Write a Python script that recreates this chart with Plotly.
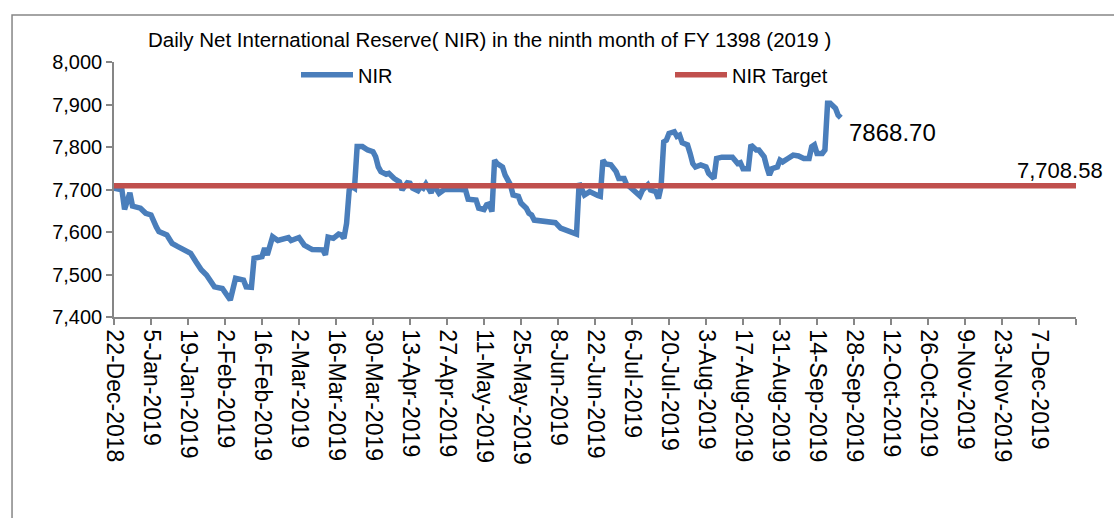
import plotly.graph_objects as go

# ---- data ----
dates = [
    "2018-12-22", "2018-12-25", "2018-12-26", "2018-12-28", "2018-12-29",
    "2019-01-01", "2019-01-03", "2019-01-05", "2019-01-07", "2019-01-08",
    "2019-01-11", "2019-01-13", "2019-01-15", "2019-01-18", "2019-01-20",
    "2019-01-22", "2019-01-24", "2019-01-26", "2019-01-29", "2019-02-01",
    "2019-02-04", "2019-02-06", "2019-02-09", "2019-02-10", "2019-02-12",
    "2019-02-13", "2019-02-16", "2019-02-17", "2019-02-18", "2019-02-20",
    "2019-02-22", "2019-02-26", "2019-02-27", "2019-03-02", "2019-03-04",
    "2019-03-06", "2019-03-07", "2019-03-11", "2019-03-12", "2019-03-13",
    "2019-03-15", "2019-03-17", "2019-03-18", "2019-03-19", "2019-03-20",
    "2019-03-21", "2019-03-22", "2019-03-23", "2019-03-24", "2019-03-26",
    "2019-03-28", "2019-03-30", "2019-03-31", "2019-04-01", "2019-04-02",
    "2019-04-04", "2019-04-05", "2019-04-07", "2019-04-09", "2019-04-10",
    "2019-04-12", "2019-04-13", "2019-04-14", "2019-04-16", "2019-04-17",
    "2019-04-18", "2019-04-19", "2019-04-21", "2019-04-22", "2019-04-24",
    "2019-04-26", "2019-05-02", "2019-05-04", "2019-05-05", "2019-05-06",
    "2019-05-08", "2019-05-09", "2019-05-11", "2019-05-12", "2019-05-13",
    "2019-05-14", "2019-05-15", "2019-05-16", "2019-05-18", "2019-05-19",
    "2019-05-20", "2019-05-21", "2019-05-22", "2019-05-24", "2019-05-25",
    "2019-05-27", "2019-05-28", "2019-05-29", "2019-05-30", "2019-06-01",
    "2019-06-04", "2019-06-07", "2019-06-09", "2019-06-11", "2019-06-14",
    "2019-06-15", "2019-06-16", "2019-06-17", "2019-06-18", "2019-06-20",
    "2019-06-21", "2019-06-23", "2019-06-24", "2019-06-25", "2019-06-26",
    "2019-06-28", "2019-06-30", "2019-07-01", "2019-07-03", "2019-07-04",
    "2019-07-05", "2019-07-07", "2019-07-09", "2019-07-10", "2019-07-12",
    "2019-07-13", "2019-07-15", "2019-07-16", "2019-07-17", "2019-07-18",
    "2019-07-19", "2019-07-20", "2019-07-22", "2019-07-23", "2019-07-24",
    "2019-07-25", "2019-07-27", "2019-07-28", "2019-07-29", "2019-07-30",
    "2019-08-01", "2019-08-03", "2019-08-04", "2019-08-06", "2019-08-07",
    "2019-08-09", "2019-08-13", "2019-08-15", "2019-08-16", "2019-08-17",
    "2019-08-19", "2019-08-20", "2019-08-22", "2019-08-23", "2019-08-25",
    "2019-08-26", "2019-08-27", "2019-08-28", "2019-08-30", "2019-08-31",
    "2019-09-01", "2019-09-03", "2019-09-05", "2019-09-07", "2019-09-09",
    "2019-09-11", "2019-09-12", "2019-09-13", "2019-09-14", "2019-09-16",
    "2019-09-17", "2019-09-18", "2019-09-19", "2019-09-21", "2019-09-22",
    "2019-09-23",
]
nir = [
    7703, 7699, 7653, 7692, 7661,
    7656, 7644, 7640, 7612, 7601,
    7593, 7573, 7566, 7558, 7550,
    7530, 7511, 7499, 7471, 7467,
    7440, 7491, 7487, 7471, 7470,
    7538, 7542, 7562, 7546, 7589,
    7580, 7587, 7580, 7587, 7569,
    7562, 7559, 7558, 7546, 7588,
    7585, 7595, 7593, 7585, 7620,
    7699, 7707, 7703, 7801, 7801,
    7793, 7789, 7777, 7753, 7742,
    7736, 7738, 7726, 7718, 7699,
    7716, 7715, 7703, 7697, 7707,
    7703, 7713, 7692, 7711, 7691,
    7700, 7700, 7699, 7677, 7677,
    7675, 7656, 7653, 7664, 7666,
    7648, 7769, 7761, 7753, 7734,
    7722, 7711, 7687, 7684, 7668,
    7656, 7644, 7640, 7628, 7627,
    7624, 7622, 7609, 7605, 7597,
    7595, 7715, 7700, 7687, 7695,
    7691, 7686, 7684, 7769, 7760,
    7758, 7742, 7726, 7726, 7711,
    7707, 7695, 7685, 7699, 7711,
    7699, 7695, 7679, 7707, 7812,
    7816, 7832, 7836, 7825, 7828,
    7810, 7805, 7785, 7761, 7753,
    7758, 7753, 7738, 7726, 7773,
    7776, 7776, 7761, 7763, 7749,
    7749, 7805, 7793, 7793, 7777,
    7753, 7734, 7749, 7753, 7769,
    7765, 7773, 7781, 7779, 7773,
    7773, 7801, 7805, 7785, 7785,
    7793, 7903, 7903, 7891, 7875,
    7868.70,
]
target_dates = ["2018-12-22", "2019-12-21"]
target_value = 7708.58
target = [target_value, target_value]

tick_dates = [
    "2018-12-22", "2019-01-05", "2019-01-19", "2019-02-02", "2019-02-16",
    "2019-03-02", "2019-03-16", "2019-03-30", "2019-04-13", "2019-04-27",
    "2019-05-11", "2019-05-25", "2019-06-08", "2019-06-22", "2019-07-06",
    "2019-07-20", "2019-08-03", "2019-08-17", "2019-08-31", "2019-09-14",
    "2019-09-28", "2019-10-12", "2019-10-26", "2019-11-09", "2019-11-23",
    "2019-12-07", "2019-12-21",
]
tick_labels = [
    "22-Dec-2018", "5-Jan-2019", "19-Jan-2019", "2-Feb-2019", "16-Feb-2019",
    "2-Mar-2019", "16-Mar-2019", "30-Mar-2019", "13-Apr-2019", "27-Apr-2019",
    "11-May-2019", "25-May-2019", "8-Jun-2019", "22-Jun-2019", "6-Jul-2019",
    "20-Jul-2019", "3-Aug-2019", "17-Aug-2019", "31-Aug-2019", "14-Sep-2019",
    "28-Sep-2019", "12-Oct-2019", "26-Oct-2019", "9-Nov-2019", "23-Nov-2019",
    "7-Dec-2019", "",
]
y_ticks = [7400, 7500, 7600, 7700, 7800, 7900, 8000]

title_text = "Daily Net International Reserve( NIR) in the ninth month of FY 1398 (2019 )"

BLUE = "#4A7EBB"
RED = "#C0504D"
AXIS = "#868686"
FONT = "Liberation Sans, Arial, sans-serif"

fig = go.Figure()
fig.add_trace(go.Scatter(
    x=dates, y=nir, mode="lines", name="NIR", legend="legend",
    line=dict(color=BLUE, width=5.5),
))
fig.add_trace(go.Scatter(
    x=target_dates, y=target, mode="lines", name="NIR Target", legend="legend2",
    line=dict(color=RED, width=5.5),
))

fig.add_annotation(
    x=dates[-1], y=nir[-1], text=f"{nir[-1]:.2f}", showarrow=False,
    xanchor="left", yanchor="middle", xshift=6, yshift=-15,
    font=dict(family=FONT, size=24, color="black"),
)
fig.add_annotation(
    xref="paper", x=1, y=target_value, text=f"{target_value:,.2f}",
    showarrow=False, xanchor="right", yanchor="bottom", xshift=29, yshift=1,
    font=dict(family=FONT, size=22, color="black"),
)

# outer chart frame
fig.add_shape(
    type="rect", xref="paper", yref="paper",
    x0=-0.106, x1=1.05, y0=-0.85, y1=1.184,
    line=dict(color=AXIS, width=1.5), fillcolor="rgba(0,0,0,0)", layer="below",
)

legend_common = dict(
    orientation="h", xanchor="left", y=0.95, yanchor="middle",
    bgcolor="rgba(0,0,0,0)", font=dict(family=FONT, size=20, color="black"),
    itemwidth=52,
)

fig.update_layout(
    width=1114, height=518,
    margin=dict(l=114, r=38, t=62, b=201),
    paper_bgcolor="white", plot_bgcolor="white",
    font=dict(family=FONT, color="black"),
    title=dict(
        text=title_text, x=148 / 1114, xanchor="left",
        y=1 - 40 / 518, yanchor="middle",
        font=dict(family=FONT, size=20.5, color="black"),
    ),
    showlegend=True,
    legend=dict(x=(296 - 114) / 962, **legend_common),
    legend2=dict(x=(670 - 114) / 962, **legend_common),
    xaxis=dict(
        type="date", range=[target_dates[0], target_dates[-1]],
        tickmode="array", tickvals=tick_dates, ticktext=tick_labels,
        tickangle=90, ticks="outside", ticklen=6, tickcolor=AXIS, tickwidth=1.5,
        showline=True, linecolor=AXIS, linewidth=1.5, showgrid=False,
        zeroline=False, automargin=False,
        tickfont=dict(family=FONT, size=23, color="black"),
    ),
    yaxis=dict(
        range=[7400, 8000], tickmode="array", tickvals=y_ticks,
        tickformat=",d", ticks="outside", ticklen=6, tickcolor=AXIS,
        tickwidth=1.5, showline=True, linecolor=AXIS, linewidth=1.5,
        showgrid=False, zeroline=False, automargin=False,
        tickfont=dict(family=FONT, size=20, color="black"),
    ),
)

fig.write_html(
    "out.html",
    config={"displayModeBar": False},
    post_script="document.body.style.margin='0';document.body.style.overflow='hidden';",
)
